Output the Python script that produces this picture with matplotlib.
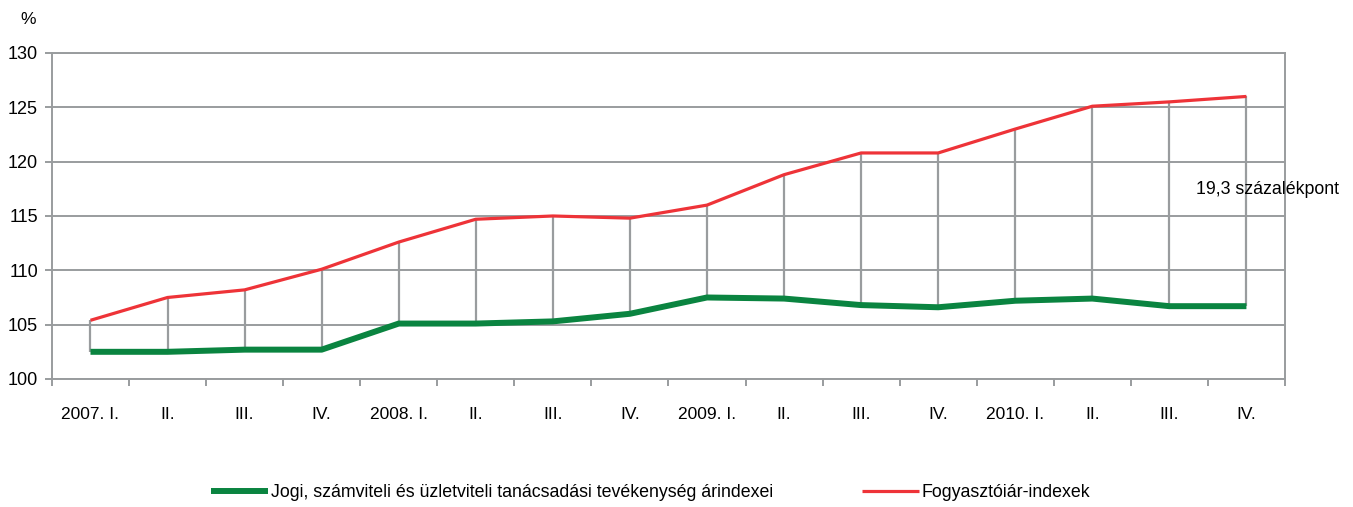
import numpy as np
import matplotlib.pyplot as plt

plt.rcParams['font.family'] = ['Liberation Sans', 'DejaVu Sans']

labels = ['2007. I.', 'II.', 'III.', 'IV.', '2008. I.', 'II.', 'III.', 'IV.',
          '2009. I.', 'II.', 'III.', 'IV.', '2010. I.', 'II.', 'III.', 'IV.']
jogi = [102.5, 102.5, 102.7, 102.7, 105.1, 105.1, 105.3, 106.0,
        107.5, 107.4, 106.8, 106.6, 107.2, 107.4, 106.7, 106.7]
fogyasztoi = [105.4, 107.5, 108.2, 110.1, 112.6, 114.7, 115.0, 114.8,
              116.0, 118.8, 120.8, 120.8, 123.0, 125.1, 125.5, 126.0]

grey = '#999c9e'
x = np.arange(len(labels))

fig = plt.figure(figsize=(13.53, 5.07), dpi=100)
ax = fig.add_axes([0.0384, 0.2525, 0.9113, 0.643])

ax.vlines(x, jogi, fogyasztoi, color=grey, lw=1.6, zorder=2)
ax.plot(x, jogi, color='#0a8440', lw=4.3, solid_capstyle='butt', zorder=3,
        label='Jogi, számviteli és üzletviteli tanácsadási tevékenység árindexei')
ax.plot(x, fogyasztoi, color='#ee3338', lw=2.3, solid_capstyle='butt', zorder=3,
        label='Fogyasztóiár-indexek')

ax.set_xlim(-0.5, len(labels) - 0.5)
ax.set_ylim(100, 130)
ax.set_yticks(np.arange(100, 131, 5))
ax.grid(axis='y', color=grey, lw=1.4)
ax.set_axisbelow(True)

ax.set_xticks(x)
ax.set_xticklabels(labels, fontsize=12.5)
ax.tick_params(axis='x', which='major', length=0, pad=20)
ax.set_xticks(np.arange(-0.5, len(labels), 1), minor=True)
ax.tick_params(axis='x', which='minor', length=5, width=1.4, color=grey, direction='out')
ax.tick_params(axis='y', length=5, width=1.4, color=grey, pad=5, labelsize=13)
for s in ax.spines.values():
    s.set_color(grey)
    s.set_linewidth(1.4)

ax.text(14.34, 117.4, '19,3 százalékpont', fontsize=12.8, va='center', ha='left', clip_on=False)
fig.text(0.0148, 0.962, '%', fontsize=12.5, ha='left', va='center')

fig.legend(loc='center', bbox_to_anchor=(0.481, 0.028), ncol=2, frameon=False,
           fontsize=12.8, handlelength=3.2, handletextpad=0.15, columnspacing=5.0)

fig.savefig('out.png', dpi=100)
